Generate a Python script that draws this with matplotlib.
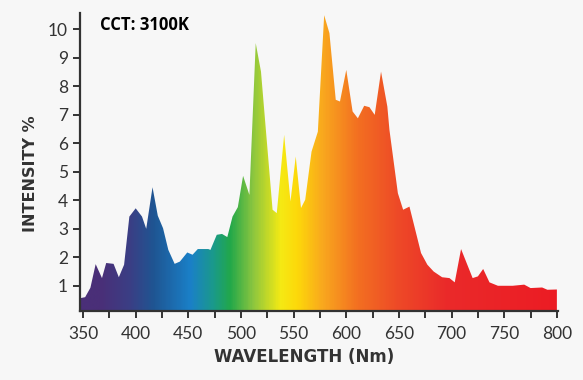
import matplotlib.pyplot as plt
import numpy as np
from matplotlib.colors import LinearSegmentedColormap
from matplotlib.ticker import MultipleLocator

# Spectrum data --------------------------------------------------------------

wavelength = [348, 352, 357, 362, 368, 372, 379, 384, 389, 394, 400, 406, 410,
              416, 421, 426, 431, 437, 442, 449, 454, 459, 469, 471, 477, 482,
              487, 492, 497, 502, 508, 514, 519, 530, 534, 541, 547, 552, 557,
              561, 567, 573, 579, 584, 590, 594, 600, 606, 611, 617, 622, 627,
              633, 639, 641, 649, 654, 660, 671, 677, 683, 691, 698, 703, 709,
              720, 725, 730, 736, 744, 758, 769, 775, 786, 791, 800]
intensity = [0.57, 0.6, 0.93, 1.76, 1.27, 1.8, 1.77, 1.3, 1.74, 3.43, 3.72, 3.43, 3.0,
             4.46, 3.46, 3.02, 2.26, 1.77, 1.85, 2.17, 2.09, 2.29, 2.29, 2.26, 2.79, 2.82,
             2.71, 3.43, 3.76, 4.86, 4.19, 9.52, 8.52, 3.67, 3.55, 6.3, 3.96, 5.54, 3.73,
             4.02, 5.71, 6.41, 10.5, 9.87, 7.53, 7.47, 8.58, 7.12, 6.88, 7.32, 7.27, 7.0,
             8.52, 7.29, 6.47, 4.25, 3.67, 3.78, 2.15, 1.74, 1.5, 1.3, 1.27, 1.12, 2.29,
             1.27, 1.33, 1.59, 1.12, 1.0, 1.0, 1.04, 0.92, 0.94, 0.86, 0.87]

# Colour stops along the wavelength axis
stop_nm = [347, 366, 394, 416, 451, 473, 489, 511, 537, 553, 577, 610, 647, 695, 800]
stop_colors = ['#4a2f78', '#4a2f78', '#3a3f85', '#1f5592', '#1a80c8', '#1a9a8a',
               '#22a84a', '#8cc63f', '#f5ea14', '#fdd80a', '#f9a81e', '#f37021',
               '#ee4b27', '#ea2a2a', '#ec1c24']

xmin, xmax = 347, 800
ymin, ymax = 0.12, 10.58

cmap = LinearSegmentedColormap.from_list(
    'spec', [((n - xmin) / (xmax - xmin), c) for n, c in zip(stop_nm, stop_colors)])

# Plot -----------------------------------------------------------------------

fig = plt.figure(figsize=(5.83, 3.80), dpi=100, facecolor='#f7f7f7')
ax = fig.add_axes([0.137, 0.182, 0.820, 0.784], facecolor='#f7f7f7')

poly = ax.fill_between(wavelength, 0, intensity, color='none', lw=0)
grad = np.linspace(0, 1, 600).reshape(1, -1)
img = ax.imshow(grad, cmap=cmap, extent=[xmin, xmax, 0, ymax], aspect='auto',
                origin='lower', interpolation='bilinear')
img.set_clip_path(poly.get_paths()[0], transform=ax.transData)

ax.set_xlim(xmin, xmax + 1)
ax.set_ylim(ymin, ymax)
ax.set_xticks(range(350, 801, 50))
ax.xaxis.set_minor_locator(MultipleLocator(25))
ax.set_yticks(range(1, 11))

for s in ['top', 'right']:
    ax.spines[s].set_visible(False)
for s in ['left', 'bottom']:
    ax.spines[s].set_color('#333333')
    ax.spines[s].set_linewidth(1.6)

ax.tick_params(which='both', direction='out', color='#333333', width=1.4,
               labelcolor='#333333', labelsize=12.5, length=5)
ax.tick_params(axis='x', which='both', pad=6)
for lab in ax.get_xticklabels() + ax.get_yticklabels():
    lab.set_family('Lato')

ax.set_xlabel('WAVELENGTH (Nm)', fontsize=12, fontweight='bold', color='#333333',
              family='DejaVu Sans')
ax.xaxis.set_label_coords(0.47, -0.125)
ax.set_ylabel('INTENSITY %', fontsize=11.5, fontweight='bold', color='#333333',
              family='DejaVu Sans')
ax.yaxis.set_label_coords(-0.088, 0.46)

ax.text(0.042, 0.99, 'CCT: 3100K', transform=ax.transAxes, fontsize=12,
        fontweight='bold', family='Open Sans', color='black', va='top')

fig.savefig('out.png', dpi=100, facecolor=fig.get_facecolor())
